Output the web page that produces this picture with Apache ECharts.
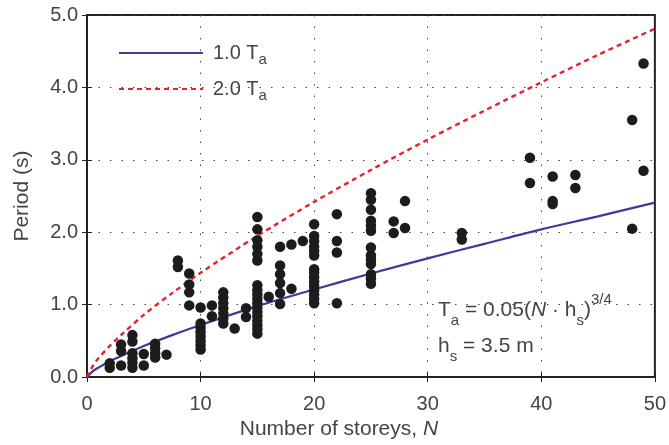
<!DOCTYPE html>
<html>
<head>
<meta charset="utf-8">
<script src="https://cdn.jsdelivr.net/npm/echarts@6/dist/echarts.min.js"></script>
<style>
  html, body { margin: 0; padding: 0; background: #fff; }
  #chart { width: 669px; height: 445px; }
</style>
</head>
<body>
<div id="chart"></div>
<script>
// storeys N and measured periods (s)
const storeys = [2, 3, 4, 5, 6, 7, 8, 9, 10, 11, 12, 13, 14, 15, 16, 17, 18, 19, 20, 22, 25, 27, 28, 33, 39, 41, 43, 48, 49];
const periods = [
  [0.13, 0.19],
  [0.16, 0.36, 0.45],
  [0.13, 0.20, 0.26, 0.33, 0.49, 0.58],
  [0.16, 0.32],
  [0.27, 0.33, 0.40, 0.46],
  [0.31],
  [1.52, 1.61],
  [0.99, 1.17, 1.28, 1.43],
  [0.38, 0.44, 0.50, 0.56, 0.62, 0.68, 0.74, 0.96],
  [0.84, 0.99],
  [0.74, 0.81, 0.88, 0.95, 1.02, 1.10, 1.17],
  [0.67],
  [0.83, 0.95],
  [0.60, 0.66, 0.72, 0.78, 0.84, 0.90, 0.96, 1.02, 1.08, 1.14, 1.20, 1.27, 1.61, 1.70, 1.80, 1.89, 2.04, 2.21],
  [1.11],
  [1.01, 1.16, 1.30, 1.42, 1.54, 1.80],
  [1.22, 1.83],
  [1.88],
  [1.02, 1.08, 1.14, 1.20, 1.26, 1.32, 1.38, 1.44, 1.49, 1.68, 1.74, 1.80, 1.88, 1.95, 2.11],
  [1.02, 1.72, 1.88, 2.25],
  [1.29, 1.36, 1.42, 1.56, 1.62, 1.68, 1.79, 2.02, 2.09, 2.16, 2.31, 2.45, 2.54],
  [1.99, 2.15],
  [2.06, 2.43],
  [1.90, 1.99],
  [2.68, 3.03],
  [2.39, 2.43, 2.77],
  [2.61, 2.79],
  [2.05, 3.55],
  [2.85, 4.33]
];

// code curves
const curveN = [0, 0.5, 1, 2, 3, 5, 7.5, 10, 15, 20, 25, 30, 35, 40, 45, 50];
const ta1 = [0, 0.08, 0.13, 0.22, 0.29, 0.43, 0.58, 0.72, 0.98, 1.21, 1.43, 1.64, 1.84, 2.04, 2.22, 2.41];
const ta2 = [0, 0.15, 0.26, 0.43, 0.58, 0.86, 1.16, 1.44, 1.95, 2.42, 2.86, 3.28, 3.68, 4.07, 4.45, 4.81];

const xTicks = [0, 10, 20, 30, 40, 50];
const yTicks = [0, 1, 2, 3, 4, 5];

const points = [];
storeys.forEach((n, i) => periods[i].forEach(p => points.push([n, p])));

const font = 'Liberation Sans, Arial, sans-serif';
const textColor = '#444';
const subRich = {
  sub: { fontSize: 15, lineHeight: 15, verticalAlign: 'bottom', color: textColor, fontFamily: font },
  sup: { fontSize: 15, lineHeight: 15, verticalAlign: 'top', color: textColor, fontFamily: font },
  it: { fontSize: 21, fontStyle: 'italic', color: textColor, fontFamily: font },
  n: { fontSize: 20, color: textColor, fontFamily: font, lineHeight: 28 },
  xn: { fontSize: 21, color: textColor, fontFamily: font },
  big: { fontSize: 21, color: textColor, fontFamily: font, lineHeight: 36 },
  bigit: { fontSize: 21, fontStyle: 'italic', color: textColor, fontFamily: font }
};

const chart = echarts.init(document.getElementById('chart'));

const option = {
  animation: false,
  grid: { left: 87, right: 13, top: 15, bottom: 64, show: true, borderColor: '#222', borderWidth: 2 },
  legend: {
    orient: 'vertical',
    left: 113,
    top: 38,
    itemWidth: 84,
    itemHeight: 14,
    itemGap: 12,
    itemStyle: { opacity: 0 },
    data: ['1.0 Ta', '2.0 Ta'],
    formatter: name => '{n|' + name.slice(0, 4) + 'T}{sub|a}',
    textStyle: { rich: subRich, padding: [0, 0, 0, 5] }
  },
  xAxis: [{
    type: 'value',
    min: 0,
    max: 50,
    interval: 10,
    name: '{xn|Number of storeys, }{it|N}',
    nameLocation: 'middle',
    nameGap: 38,
    nameTextStyle: { rich: subRich, padding: [0, 64, 0, 0] },
    axisLine: { lineStyle: { color: '#222', width: 2 } },
    axisTick: { inside: true, length: 5, lineStyle: { color: '#222' } },
    axisLabel: { fontSize: 20, color: textColor, fontFamily: font, margin: 17,
      formatter: v => xTicks.includes(v) ? String(v) : '' },
    splitLine: { show: true, lineStyle: { color: '#444', type: [1.5, 10], width: 1 } }
  }, {
    type: 'value',
    position: 'top',
    min: 0,
    max: 50,
    interval: 10,
    axisLine: { show: false },
    axisTick: { inside: true, length: 5, lineStyle: { color: '#222' } },
    axisLabel: { show: false },
    splitLine: { show: false }
  }],
  yAxis: [{
    type: 'value',
    min: 0,
    max: 5,
    interval: 1,
    name: 'Period (s)',
    nameLocation: 'middle',
    nameGap: 54,
    nameTextStyle: { fontSize: 21, color: textColor, fontFamily: font },
    axisLine: { lineStyle: { color: '#222', width: 2 } },
    axisTick: { inside: true, length: 5, lineStyle: { color: '#222' } },
    axisLabel: { fontSize: 20, color: textColor, fontFamily: font, margin: 9,
      formatter: v => yTicks.includes(v) ? v.toFixed(1) : '' },
    splitLine: { show: true, lineStyle: { color: '#444', type: [1.5, 10], width: 1 } }
  }, {
    type: 'value',
    position: 'right',
    min: 0,
    max: 5,
    interval: 1,
    axisLine: { show: false },
    axisTick: { inside: true, length: 5, lineStyle: { color: '#222' } },
    axisLabel: { show: false },
    splitLine: { show: false }
  }],
  series: [
    {
      name: '1.0 Ta',
      type: 'line',
      smooth: 0.3,
      symbol: 'none',
      data: curveN.map((n, i) => [n, ta1[i]]),
      lineStyle: { color: '#3c3c94', width: 2.2 },
      itemStyle: { color: '#3c3c94' },
      z: 2
    },
    {
      name: '2.0 Ta',
      type: 'line',
      smooth: 0.3,
      symbol: 'none',
      data: curveN.map((n, i) => [n, ta2[i]]),
      lineStyle: { color: '#e5232a', width: 2.4, type: [5, 4] },
      itemStyle: { color: '#e5232a' },
      z: 2
    },
    {
      name: 'measured',
      type: 'scatter',
      symbolSize: 10.5,
      data: points,
      itemStyle: { color: '#1c1c1c', opacity: 1 },
      z: 3
    }
  ],
  graphic: [{
    type: 'text',
    left: 438,
    top: 292,
    style: {
      text: '{big|T}{sub|a}{big| = 0.05(}{bigit|N}{big| · h}{sub|s}{big|)}{sup|3/4}\n{big|h}{sub|s}{big| = 3.5 m}',
      rich: subRich,
      fill: textColor
    }
  }]
};

chart.setOption(option);
</script>
</body>
</html>
